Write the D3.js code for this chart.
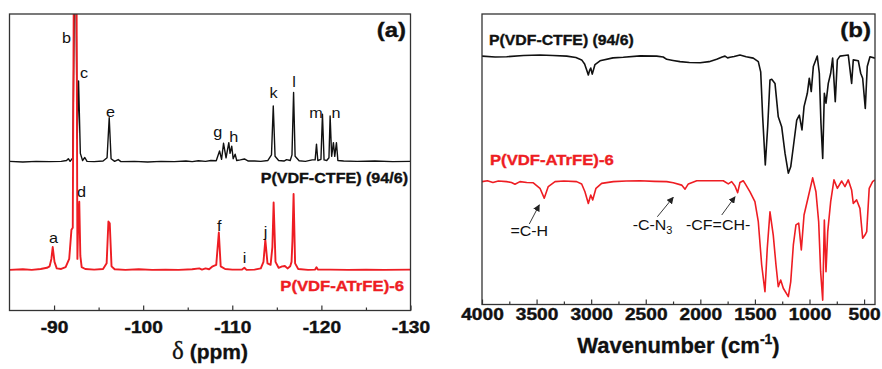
<!DOCTYPE html>
<html><head><meta charset="utf-8">
<script src="https://cdn.jsdelivr.net/npm/d3@7"></script>
<style>body{margin:0;background:#fff} svg{display:block} text{font-family:Arial,"Liberation Sans",sans-serif}</style>
</head><body><svg id="c" width="882" height="369"></svg>
<script>
// ---------- data ----------
const nmrTicksMajor = [-90, -100, -110, -120, -130];
const nmrTicksMinor = [-95, -105, -115, -125];
const irTicksMajor = [4000, 3500, 3000, 2500, 2000, 1500, 1000, 500];
const irTicksMinor = [3750, 3250, 2750, 2250, 1750, 1250, 750];

const seriesNames = ["P(VDF-CTFE) (94/6)", "P(VDF-ATrFE)-6"];

// 19F NMR, [ppm, intensity a.u.] relative to each trace baseline
const nmrCTFE = [
 [-85.0,0.3],[-86.5,0.1],[-88.0,0.3],[-89.5,0.2],[-90.8,0.3],[-91.4,0.6],[-91.6,1.2],[-91.8,0.3],
 [-92.1,1.5],[-92.3,60],[-92.45,60],[-92.6,8],[-92.75,27.4],[-92.95,3],[-93.2,0.6],[-93.45,1.6],
 [-93.7,0.3],[-94.5,0.2],[-95.5,0.4],[-95.95,1.5],[-96.19,15.0],[-96.4,1.2],[-96.8,0.3],[-97.2,0.9],
 [-97.5,0.2],[-99,0.3],[-100.5,0.1],[-102,0.3],[-103.5,0.2],[-104.8,0.4],[-105.5,0.2],[-106.2,0.5],
 [-107,0.3],[-107.6,0.6],[-108.2,0.5],[-108.57,3.8],[-108.8,1.0],[-109.02,6.4],[-109.3,1.5],
 [-109.61,6.6],[-109.75,3],[-109.94,5.4],[-110.1,1.2],[-110.32,2.7],[-110.5,0.6],[-110.9,0.8],
 [-111.36,1.1],[-111.8,0.4],[-112.5,0.4],[-113.2,0.3],[-114.0,0.6],[-114.4,2.5],[-114.6,19.0],
 [-114.8,2.0],[-115.2,0.6],[-115.8,0.4],[-116.1,0.9],[-116.5,0.6],[-116.7,2.5],[-116.88,23.5],
 [-117.05,2.0],[-117.5,0.5],[-118.2,0.3],[-118.97,0.8],[-119.3,0.8],[-119.45,6.1],[-119.6,0.6],
 [-119.95,1.0],[-120.12,16.2],[-120.3,0.8],[-120.6,0.6],[-120.85,1.5],[-120.98,15.6],[-121.15,2],
 [-121.35,6.6],[-121.5,2],[-121.69,6.6],[-121.85,0.6],[-122.5,0.4],[-124,0.3],[-126,0.4],[-128,0.2],[-130,0.3]
];
const nmrATrFE = [
 [-85,0.3],[-86.5,0.5],[-87.5,0.3],[-88.5,0.6],[-89.2,1.0],[-89.5,1.5],[-89.7,4],[-89.85,8.0],
 [-90.05,3],[-90.3,0.8],[-90.8,0.6],[-91.3,1.2],[-91.7,4],[-91.95,13.8],[-92.1,14.5],[-92.25,120],
 [-92.5,120],[-92.62,4],[-92.7,15],[-92.83,23.3],[-92.95,5],[-93.1,1.2],[-93.5,0.6],[-94.5,0.4],
 [-95.5,0.6],[-95.9,2.5],[-96.1,16.6],[-96.25,16.0],[-96.45,1.5],[-96.8,0.5],[-98,0.3],[-99.5,0.5],
 [-101,0.3],[-102.5,0.4],[-104,0.3],[-105.5,0.5],[-106.3,0.8],[-106.6,0.4],[-107,0.8],[-107.4,0.5],
 [-107.8,1.5],[-108.2,2],[-108.49,12.9],[-108.7,1.5],[-109.2,0.6],[-110,0.4],[-111.1,0.4],
 [-111.36,1.0],[-111.6,0.3],[-112.5,0.4],[-113.2,0.8],[-113.5,3],[-113.71,10.4],[-113.95,2.5],
 [-114.3,2],[-114.5,8],[-114.64,23.0],[-114.85,3],[-115.2,1],[-115.6,1.5],[-115.9,1.6],[-116.2,0.8],
 [-116.5,1.5],[-116.65,3],[-116.75,10],[-116.88,25.9],[-117.05,2.5],[-117.4,0.6],[-118.5,0.3],
 [-119.3,0.4],[-119.45,1.2],[-119.6,0.4],[-121,0.4],[-123,0.3],[-125,0.4],[-127,0.3],[-130,0.4]
];
const nmrOffsets = [50, 13.4];

// peak letters: [letter, ppm, level]
const nmrPeakLetters = [
 ["b",-91.41,90.2],["c",-93.36,78.4],["e",-96.33,65.3],["g",-108.37,58.5],["h",-110.16,56.9],
 ["k",-114.64,71.7],["l",-116.94,75.4],["m",-119.40,65.0],["n",-121.64,65.0],
 ["d",-93.08,38.3],["a",-89.95,22.8],["f",-108.54,26.9],["i",-111.39,16.1],["j",-113.74,24.8]
];

// FTIR, [wavenumber, transmittance a.u.]
const irCTFE = [
 [4000,85.5],[3880,85.2],[3774,85.3],[3620,85.7],[3469,85.9],[3350,85.7],[3224,85.5],[3140,85.0],
 [3087,84.2],[3060,82.8],[3041,80.7],[3026,79.0],[3015,80.5],[3004,81.4],[2990,79.3],[2965,82.6],
 [2919,83.9],[2800,84.9],[2706,85.1],[2550,85.6],[2400,85.5],[2340,85.2],[2308,84.4],[2250,84.0],
 [2186,83.6],[2100,83.3],[2001,83.2],[1920,83.6],[1850,84.4],[1800,85.2],[1774,85.5],[1750,84.9],
 [1728,85.1],[1690,85.4],[1637,85.9],[1580,85.3],[1515,84.8],[1469,83.6],[1447,80.1],[1429,64.6],
 [1405,48.0],[1383,61.2],[1362,77.3],[1346,77.5],[1316,76.1],[1286,64.6],[1255,61.2],[1224,52.0],
 [1194,45.2],[1172,47.4],[1148,54.3],[1117,63.5],[1093,65.2],[1069,60.1],[1050,68.1],[1020,72.7],
 [1002,77.9],[984,73.3],[965,81.9],[929,85.5],[910,79.6],[895,62.4],[879,50.3],[864,72.7],
 [849,69.3],[828,76.1],[806,79.6],[788,84.8],[764,69.8],[745,84.2],[721,85.5],[680,85.7],
 [645,85.9],[614,76.1],[599,84.2],[553,83.9],[531,79.6],[513,77.9],[489,67.5],[471,81.9],
 [446,85.3],[400,84.8]
];
const irATrFE = [
 [4000,42.3],[3950,42.6],[3900,42.0],[3850,42.5],[3774,42.3],[3730,42.0],[3698,41.4],[3652,42.3],
 [3590,42.0],[3530,41.9],[3469,40.0],[3430,36.6],[3393,40.6],[3331,42.3],[3250,42.5],[3133,42.3],
 [3087,41.5],[3057,38.8],[3026,34.8],[3004,37.7],[2986,36.0],[2956,40.0],[2904,41.7],[2797,42.3],
 [2680,42.5],[2553,42.6],[2420,42.4],[2308,42.3],[2248,41.9],[2171,41.1],[2140,39.7],[2110,41.5],
 [2033,42.6],[1900,42.6],[1790,42.6],[1744,41.5],[1713,42.3],[1683,40.8],[1658,38.5],[1637,42.0],
 [1607,42.6],[1591,41.7],[1545,38.8],[1500,35.4],[1469,28.5],[1438,13.6],[1408,4.4],[1387,19.3],
 [1362,31.9],[1332,23.9],[1307,13.6],[1286,6.1],[1264,8.4],[1240,5.6],[1194,2.7],[1172,7.8],
 [1148,20.5],[1124,27.4],[1099,28.0],[1075,18.8],[1050,30.8],[1011,37.1],[971,43.6],[941,38.8],
 [916,28.5],[898,11.3],[879,1.5],[864,29.1],[849,11.3],[833,25.1],[806,35.4],[776,42.9],
 [745,40.0],[705,42.5],[675,40.6],[645,42.9],[614,39.4],[599,34.8],[568,36.0],[538,33.1],
 [513,22.8],[492,23.9],[476,25.1],[453,40.0],[422,42.3],[400,42.9]
];

// annotations: label, arrow head [wn, T], arrow tail [wn, T], text anchor [wn, T]
const irAnnotations = [
 {label:"=C-H", sub:"", head:[3475,34.3], tail:[3567,27.7], text:[3567,23.6], anchor:"middle"},
 {label:"-C-N", sub:"3", head:[2248,36.9], tail:[2394,30.2], text:[2620,25.6], anchor:"start"},
 {label:"-CF=CH-", sub:"", head:[1682,37.1], tail:[1804,30.8], text:[2131,25.6], anchor:"start"}
];

// ---------- drawing ----------
const svg = d3.select("#c");
const BLACK = "#111", RED = "#ee1d23", FRAME = "#333";
const SX = 1.16;

function txt(g, x, y, s, o) {
  const t = g.append("text")
    .attr("transform", `translate(${x},${y}) scale(${o.sx||1},1)`)
    .attr("text-anchor", o.anchor || "start")
    .attr("font-size", o.size).attr("font-weight", o.weight || "normal")
    .attr("fill", o.fill || BLACK).text(s);
  if (o.weight === "bold") t.attr("stroke", o.fill || BLACK).attr("stroke-width", 0.35);
  return t;
}

function panel(x0, x1, y0, y1, xDomain, yDomain, majors, minors, labelY, id) {
  const x = d3.scaleLinear().domain(xDomain).range([x0, x1]);
  const y = d3.scaleLinear().domain(yDomain).range([y1, y0]);
  const g = svg.append("g");
  svg.append("clipPath").attr("id", id).append("rect")
    .attr("x", x0).attr("y", y0).attr("width", x1 - x0).attr("height", y1 - y0);
  const ax = g.append("g").attr("transform", `translate(0,${y1})`)
    .call(d3.axisBottom(x).tickValues(majors).tickSizeInner(-5).tickSizeOuter(0).tickFormat(d3.format("d")));
  ax.select(".domain").remove();
  ax.selectAll("line").attr("stroke", FRAME).attr("stroke-width", 1.2);
  ax.selectAll("text").attr("y", labelY).attr("dy", 0)
    .attr("font-size", 16.5).attr("font-weight", "bold").attr("fill", BLACK)
    .attr("stroke", BLACK).attr("stroke-width", 0.4)
    .attr("font-family", "Arial, 'Liberation Sans', sans-serif")
    .attr("transform", `scale(${SX},1)`)
    .text(d => String(d).replace("\u2212", "-"));
  const mn = g.append("g").attr("transform", `translate(0,${y1})`)
    .call(d3.axisBottom(x).tickValues(minors).tickSizeInner(-3).tickSizeOuter(0).tickFormat(""));
  mn.select(".domain").remove();
  mn.selectAll("line").attr("stroke", FRAME).attr("stroke-width", 1.2);
  return {x, y, g, clip: `url(#${id})`, frame: () => g.append("rect")
    .attr("x", x0).attr("y", y0).attr("width", x1 - x0).attr("height", y1 - y0)
    .attr("fill", "none").attr("stroke", FRAME).attr("stroke-width", 1.3)};
}

// panel (a) NMR
const A = panel(9.5, 410.5, 14, 310.5, [-85, -130], [0, 100], nmrTicksMajor, nmrTicksMinor, 23, "clipA");
const lineA = off => d3.line().x(d => A.x(d[0])).y(d => A.y(d[1] + off));
A.g.append("path").datum(nmrCTFE).attr("d", lineA(nmrOffsets[0])).attr("clip-path", A.clip)
  .attr("fill", "none").attr("stroke", BLACK).attr("stroke-width", 1.4).attr("stroke-linejoin", "round");
A.g.append("path").datum(nmrATrFE).attr("d", lineA(nmrOffsets[1])).attr("clip-path", A.clip)
  .attr("fill", "none").attr("stroke", RED).attr("stroke-width", 1.9).attr("stroke-linejoin", "round");
A.frame();
nmrPeakLetters.forEach(([l, p, v]) => txt(A.g, A.x(p), A.y(v), l, {size: 15, anchor: "middle", sx: 1.08}));
txt(A.g, 406, 37, "(a)", {size: 20, weight: "bold", anchor: "end", sx: 1.2});
txt(A.g, 408, 183, seriesNames[0], {size: 14.5, weight: "bold", anchor: "end", sx: 1.11});
txt(A.g, 404, 291, seriesNames[1], {size: 14.5, weight: "bold", anchor: "end", sx: 1.15, fill: RED});
const tA = A.g.append("text").attr("x", 210).attr("y", 359).attr("text-anchor", "middle")
  .attr("font-size", 21).attr("font-weight", "bold").attr("fill", BLACK)
  .attr("stroke", BLACK).attr("stroke-width", 0.3);
tA.append("tspan").attr("font-family", "'Liberation Serif', 'Times New Roman', serif").attr("font-weight", "normal").attr("font-size", 25).text("\u03b4");
tA.append("tspan").text(" (ppm)");

// panel (b) FTIR
const B = panel(482, 875, 14, 304.5, [4000, 400], [0, 100], irTicksMajor, irTicksMinor, 16, "clipB");
const lineB = d3.line().x(d => B.x(d[0])).y(d => B.y(d[1]));
B.g.append("path").datum(irCTFE).attr("d", lineB).attr("clip-path", B.clip)
  .attr("fill", "none").attr("stroke", BLACK).attr("stroke-width", 1.6).attr("stroke-linejoin", "round");
B.g.append("path").datum(irATrFE).attr("d", lineB).attr("clip-path", B.clip)
  .attr("fill", "none").attr("stroke", RED).attr("stroke-width", 1.6).attr("stroke-linejoin", "round");
B.frame();
txt(B.g, 871, 37, "(b)", {size: 20, weight: "bold", anchor: "end", sx: 1.2});
txt(B.g, 489, 45, seriesNames[0], {size: 14.5, weight: "bold", sx: 1.09});
txt(B.g, 490, 165, seriesNames[1], {size: 14.5, weight: "bold", sx: 1.15, fill: RED});

svg.append("defs").append("marker").attr("id", "arr").attr("viewBox", "0 0 10 10")
  .attr("refX", 9).attr("refY", 5).attr("markerWidth", 7).attr("markerHeight", 7)
  .attr("orient", "auto").attr("markerUnits", "userSpaceOnUse")
  .append("path").attr("d", "M0,0 L10,5 L0,10 z").attr("fill", "#222");
irAnnotations.forEach(a => {
  B.g.append("line").attr("x1", B.x(a.tail[0])).attr("y1", B.y(a.tail[1]))
    .attr("x2", B.x(a.head[0])).attr("y2", B.y(a.head[1]))
    .attr("stroke", "#222").attr("stroke-width", 0.9).attr("marker-end", "url(#arr)");
  const t = txt(B.g, B.x(a.text[0]), B.y(a.text[1]), "", {size: 14.5, anchor: a.anchor, sx: 1.1});
  t.append("tspan").text(a.label);
  if (a.sub) t.append("tspan").attr("font-size", 10).attr("dy", 4).text(a.sub);
});
const tB = B.g.append("text").attr("x", 678.5).attr("y", 353).attr("text-anchor", "middle")
  .attr("font-size", 22).attr("font-weight", "bold").attr("fill", BLACK)
  .attr("stroke", BLACK).attr("stroke-width", 0.3);
tB.append("tspan").text("Wavenumber (cm");
tB.append("tspan").attr("font-size", 14).attr("dy", -9).text("-1");
tB.append("tspan").attr("dy", 9).text(")");
</script></body></html>
